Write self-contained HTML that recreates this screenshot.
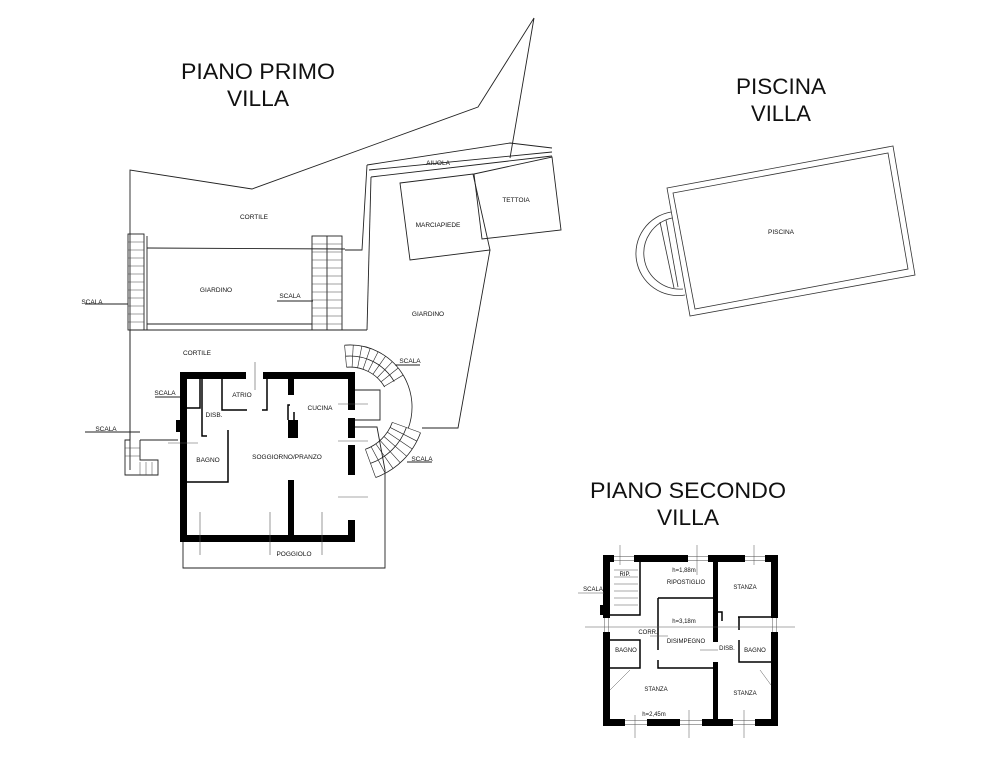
<!DOCTYPE html>
<html><head><meta charset="utf-8"><style>
html,body{margin:0;padding:0;background:#fff}
svg{display:block}
.t{font-family:"Liberation Sans",sans-serif;font-size:6.5px;fill:#111;text-anchor:middle}
.h{font-family:"Liberation Sans",sans-serif;font-size:22px;fill:#111;text-anchor:middle}
</style></head><body>
<svg width="983" height="768" viewBox="0 0 983 768" xmlns="http://www.w3.org/2000/svg">
<text class="h" x="258" y="79" textLength="154" lengthAdjust="spacingAndGlyphs">PIANO PRIMO</text>
<text class="h" x="258" y="106" textLength="62" lengthAdjust="spacingAndGlyphs">VILLA</text>
<text class="h" x="781" y="94" textLength="90" lengthAdjust="spacingAndGlyphs">PISCINA</text>
<text class="h" x="781" y="121" textLength="60" lengthAdjust="spacingAndGlyphs">VILLA</text>
<text class="h" x="688" y="498" textLength="196" lengthAdjust="spacingAndGlyphs">PIANO SECONDO</text>
<text class="h" x="688" y="525" textLength="62" lengthAdjust="spacingAndGlyphs">VILLA</text>

<g fill="none" stroke="#222" stroke-width="0.9">
<polyline points="130,470 130,170 252,189 478,107 534,18 510,158"/>
<polyline points="367,165 510,143 552,148"/>
<polyline points="369,170 552,152"/>
<polyline points="371,177 552,156"/>
<polyline points="367,165 362,250 345,250"/>
<polyline points="371,177 367,330"/>
<polygon points="400,183 473,174 490,250 410,260"/>
<polygon points="474,174 552,157 561,230 482,239"/>
<polyline points="490,250 458,428 422,428"/>
<line x1="147" y1="248" x2="345" y2="249"/>
<line x1="130" y1="330" x2="367" y2="330"/>
<line x1="147" y1="324" x2="312" y2="324"/>
<line x1="147" y1="236" x2="147" y2="330"/>
<rect x="312" y="236" width="30" height="94"/>
<line x1="327" y1="236" x2="327" y2="330"/>
<rect x="128" y="234" width="16" height="96"/>
<polyline points="130,330 130,440 125,440 125,475 158,475 158,460 140,460 140,440"/>
<line x1="85" y1="432" x2="140" y2="432"/>
<line x1="140" y1="440" x2="178" y2="440"/>
<line x1="85" y1="304" x2="128" y2="304"/>
<line x1="277" y1="301" x2="313" y2="301"/>
<line x1="155" y1="397" x2="185" y2="397"/>
<line x1="395" y1="365" x2="420" y2="365"/>
<line x1="407" y1="462" x2="432" y2="462"/>
<polyline points="183,542 183,568 385,568 385,470"/>
<polyline points="355,390 380,390 380,420 355,420"/>
<polyline points="355,427 377,427 385,470"/>
</g>
<g stroke="#444" stroke-width="0.5">
<path d="M128 242h16M128 250h16M128 258h16M128 266h16M128 274h16M128 282h16M128 290h16M128 298h16M128 306h16M128 314h16M128 322h16"/>
<path d="M312 244h30M312 252h30M312 260h30M312 268h30M312 276h30M312 284h30M312 292h30M312 300h30M312 308h30M312 316h30M312 324h30"/>
<path d="M125 448h15M125 456h15M140 462v13M146 462v13M152 462v13"/>
</g>
<!-- spiral stairs -->
<g fill="none" stroke="#222" stroke-width="0.8">
<path d="M346.5 367.2 A40 40 0 0 1 384.6 387"/>
<path d="M345.6 356.2 A51 51 0 0 1 394.2 381.5"/>
<path d="M344.6 345.2 A62 62 0 0 1 403.7 376"/>
<path d="M403.7 376 A62 62 0 0 1 408.3 428.2"/>
<path d="M392.3 422.4 A45 45 0 0 1 365.4 449.3"/>
<path d="M406.4 427.5 A60 60 0 0 1 370.5 463.4"/>
<path d="M420.5 432.7 A75 75 0 0 1 375.7 477.5"/>
<g transform="translate(350,407)" stroke-width="0.6">
<line x1="40" x2="62" transform="rotate(-95)"/><line x1="40" x2="62" transform="rotate(-87)"/><line x1="40" x2="62" transform="rotate(-79)"/><line x1="40" x2="62" transform="rotate(-71)"/><line x1="40" x2="62" transform="rotate(-63)"/><line x1="40" x2="62" transform="rotate(-55)"/><line x1="40" x2="62" transform="rotate(-47)"/><line x1="40" x2="62" transform="rotate(-39)"/><line x1="40" x2="62" transform="rotate(-31)"/>
<line x1="45" x2="75" transform="rotate(20)"/><line x1="45" x2="75" transform="rotate(27)"/><line x1="45" x2="75" transform="rotate(34)"/><line x1="45" x2="75" transform="rotate(41)"/><line x1="45" x2="75" transform="rotate(48)"/><line x1="45" x2="75" transform="rotate(55)"/><line x1="45" x2="75" transform="rotate(62)"/><line x1="45" x2="75" transform="rotate(70)"/>
</g>
</g>

<g fill="#000">
<rect x="180" y="372" width="7" height="170"/>
<rect x="180" y="535" width="175" height="7"/>
<rect x="180" y="372" width="66" height="7"/>
<rect x="263" y="372" width="92" height="7"/>
<rect x="348" y="372" width="7" height="38"/>
<rect x="348" y="418" width="7" height="20"/>
<rect x="348" y="445" width="7" height="30"/>
<rect x="348" y="520" width="7" height="22"/>
<rect x="176" y="420" width="6" height="12"/>
<rect x="288" y="379" width="6" height="16"/>
<rect x="288" y="420" width="10" height="18"/>
<rect x="288" y="480" width="6" height="58"/>
<rect x="220" y="535" width="30" height="7"/>
</g>
<g fill="none" stroke="#000" stroke-width="1.5">
<polyline points="187,408 200,408 200,379"/>
<polyline points="202,379 202,436 207,436"/>
<polyline points="222,379 222,410 247,410"/>
<polyline points="267,379 267,410 262,410"/>
<polyline points="290,405 288,405 288,420"/>
<polyline points="294,420 294,412"/>
<polyline points="187,482 228,482 228,430"/>
</g>
<g stroke="#555" stroke-width="0.6">
<line x1="200" y1="512" x2="200" y2="555"/><line x1="270" y1="512" x2="270" y2="555"/><line x1="322" y1="512" x2="322" y2="555"/>
<line x1="338" y1="404" x2="368" y2="404"/><line x1="338" y1="441" x2="368" y2="441"/><line x1="338" y1="497" x2="368" y2="497"/>
<line x1="168" y1="443" x2="198" y2="443"/><line x1="255" y1="362" x2="255" y2="390"/>
</g>

<g class="t">
<text x="254" y="219">CORTILE</text>
<text x="216" y="292">GIARDINO</text>
<text x="290" y="298">SCALA</text>
<text x="92" y="304">SCALA</text>
<text x="438" y="165">AIUOLA</text>
<text x="438" y="227">MARCIAPIEDE</text>
<text x="516" y="202">TETTOIA</text>
<text x="428" y="316">GIARDINO</text>
<text x="197" y="355">CORTILE</text>
<text x="410" y="363">SCALA</text>
<text x="165" y="395">SCALA</text>
<text x="106" y="431">SCALA</text>
<text x="422" y="461">SCALA</text>
<text x="242" y="397">ATRIO</text>
<text x="214" y="417">DISB.</text>
<text x="320" y="410">CUCINA</text>
<text x="208" y="462">BAGNO</text>
<text x="287" y="459">SOGGIORNO/PRANZO</text>
<text x="294" y="556">POGGIOLO</text>
<text x="781" y="234">PISCINA</text>
</g>

<g fill="none" stroke="#333" stroke-width="0.8">
<polygon points="667,188 893,146 915,275 690,316"/>
<polygon points="673,193 888,153 908,269 695,309"/>
<path d="M671 212 A42 42 0 0 0 685 295"/>
<path d="M672 218 A36 36 0 0 0 683 289"/>
<line x1="660" y1="222" x2="674" y2="288"/>
<line x1="666" y1="220" x2="678" y2="287"/>
</g>

<g fill="#000">
<rect x="603" y="555" width="175" height="7"/>
<rect x="603" y="719" width="175" height="7"/>
<rect x="603" y="555" width="7" height="171"/>
<rect x="771" y="555" width="7" height="171"/>
<rect x="713" y="562" width="5" height="80"/>
<rect x="713" y="662" width="5" height="64"/>
<rect x="600" y="605" width="8" height="10"/>
</g>
<g fill="#fff">
<rect x="614" y="554" width="20" height="9"/><rect x="688" y="554" width="20" height="9"/><rect x="745" y="554" width="20" height="9"/>
<rect x="625" y="718" width="22" height="9"/><rect x="680" y="718" width="22" height="9"/><rect x="733" y="718" width="22" height="9"/>
<rect x="602" y="618" width="9" height="14"/><rect x="770" y="618" width="9" height="14"/>
</g>
<g stroke="#888" stroke-width="0.7" fill="none">
<path d="M614 556.5h20M614 560.5h20M688 556.5h20M688 560.5h20M745 556.5h20M745 560.5h20M625 720.5h22M625 724.5h22M680 720.5h22M680 724.5h22M733 720.5h22M733 724.5h22M604.5 618v14M608.5 618v14M772.5 618v14M776.5 618v14"/>
</g>
<g fill="none" stroke="#000" stroke-width="1.5">
<polyline points="610,615 640,615 640,562"/>
<polyline points="658,598 713,598"/>
<polyline points="658,598 658,650"/>
<polyline points="718,612 722,612 722,621"/>
<polyline points="738,617 771,617"/>
<polyline points="739,617 739,630"/>
<polyline points="739,640 739,662 771,662"/>
<polyline points="658,660 658,668 713,668"/>
<polyline points="610,668 640,668 640,640 610,640"/>
</g>
<g stroke="#555" stroke-width="0.5" fill="none">
<line x1="585" y1="627" x2="795" y2="627"/>
<line x1="620" y1="545" x2="620" y2="565"/><line x1="697" y1="545" x2="697" y2="575"/><line x1="754" y1="545" x2="754" y2="565"/>
<line x1="635" y1="715" x2="635" y2="738"/><line x1="689" y1="710" x2="689" y2="738"/><line x1="744" y1="710" x2="744" y2="738"/>
<line x1="630" y1="670" x2="610" y2="690"/><line x1="760" y1="670" x2="771" y2="685"/>
<path d="M614 570h24M614 577h24M614 584h24M614 591h24M614 598h24M614 605h24"/>
<line x1="650" y1="636" x2="668" y2="636"/><line x1="700" y1="650" x2="718" y2="650"/>
<line x1="578" y1="593" x2="604" y2="593"/>
</g>
<g class="t" style="font-size:6px">
<text x="625" y="576">RIP.</text>
<text x="684" y="572">h=1,88m</text>
<text x="686" y="584">RIPOSTIGLIO</text>
<text x="745" y="589">STANZA</text>
<text x="593" y="591">SCALA</text>
<text x="684" y="623">h=3,18m</text>
<text x="648" y="634">CORR.</text>
<text x="686" y="643">DISIMPEGNO</text>
<text x="727" y="650">DISB.</text>
<text x="626" y="652">BAGNO</text>
<text x="755" y="652">BAGNO</text>
<text x="656" y="691">STANZA</text>
<text x="745" y="695">STANZA</text>
<text x="654" y="716">h=2,45m</text>
</g>
</svg>
</body></html>
